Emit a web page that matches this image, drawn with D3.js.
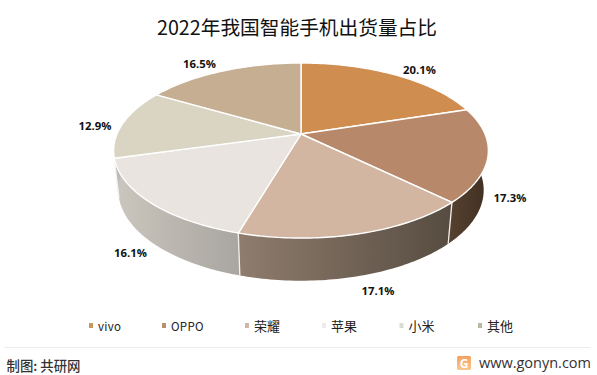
<!DOCTYPE html>
<html><head><meta charset="utf-8">
<script src="https://cdn.jsdelivr.net/npm/d3@7"></script>
<style>html,body{margin:0;padding:0;background:#fff}svg{display:block}</style>
</head><body><svg id="c" width="597" height="375"></svg>
<script>
const categories = ["vivo","OPPO","荣耀","苹果","小米","其他"];
const shares = [20.1,17.3,17.1,16.1,12.9,16.5];
const faceColors = ["#d08d50","#b8886b","#d2b6a2","#e9e4df","#d9d5c2","#c6ae92"];
const legendColors = ["#c8965f","#b88f70","#d2b6a6","#ececea","#dcdcd6","#b8b8a4"];
const sideStops = [["#4a3828","#4a3828"],["#54402e","#3f2f22"],["#8f7d6e","#574c41"],["#cbc7be","#a9a5a0"],["#bbb","#bbb"],["#aaa","#aaa"]];
const labelAnchors = [[419.5,69],[510,197],[378,290],[130.5,252],[95,125],[199.5,63]];
const legendMarkX = [89,162,245,322,399.5,478];

const svg = d3.select("#c");
const font = "'Noto Sans CJK SC','Noto Sans',sans-serif";
const cx = 301, cy = 134, a = 184, b = 84.4, k = 0.189, depth = 39, rimX = 0.975, rimY = 1.035;
function project(t, rim){
  const u = Math.sin(t), v = Math.cos(t), d = 1 + k*v;
  const x = a*u/d, y = -b*v/d;
  return rim ? [cx + x*rimX, cy + y*rimY + depth] : [cx + x, cy + y];
}
const arcs = d3.pie().sort(null).value(d=>d)(shares);
const line = d3.line();
function sample(a0,a1){ return d3.range(0,61).map(i=>a0+(a1-a0)*i/60); }

const defs = svg.append("defs");
const grad = defs.append("linearGradient").attr("id","logo").attr("x1",0).attr("y1",0).attr("x2",0).attr("y2",1);
grad.append("stop").attr("offset",0).attr("stop-color","#f6a05f");
grad.append("stop").attr("offset",1).attr("stop-color","#fac88f");

// side walls: only the front-facing part
const sides = svg.append("g");
arcs.forEach((s,i)=>{
  const start = i===1 ? Math.max(s.startAngle,1.2) : Math.max(s.startAngle,Math.PI/2);
  const end = i===3 ? Math.min(s.endAngle,4.7) : Math.min(s.endAngle,3*Math.PI/2);
  if(end<=start) return;
  const ts = sample(start,end);
  const top = ts.map(t=>project(t,false));
  const bot = ts.map(t=>project(t,true)).reverse();
  const id = "side"+i;
  const x0 = d3.min(top,p=>p[0]), x1 = d3.max(top,p=>p[0]);
  const g = defs.append("linearGradient").attr("id",id).attr("gradientUnits","userSpaceOnUse")
    .attr("x1",x0).attr("x2",x1).attr("y1",0).attr("y2",0);
  g.append("stop").attr("offset",0).attr("stop-color",sideStops[i][0]);
  g.append("stop").attr("offset",1).attr("stop-color",sideStops[i][1]);
  sides.append("path").attr("d",line(top.concat(bot))+"Z").attr("fill","url(#"+id+")");
});
// light seams between front-facing walls
arcs.filter(s=>s.endAngle>Math.PI/2 && s.endAngle<3*Math.PI/2).forEach(s=>{
  sides.append("path").attr("d",line([project(s.endAngle,false),project(s.endAngle,true)]))
    .attr("stroke","#f4efe9").attr("stroke-width",1.3).attr("fill","none");
});

// top faces
svg.append("g").selectAll("path").data(arcs).join("path")
  .attr("d",s=>line([[cx,cy]].concat(sample(s.startAngle,s.endAngle).map(t=>project(t,false))))+"Z")
  .attr("fill",(s,i)=>faceColors[i]).attr("stroke","#fff").attr("stroke-width",1.4).attr("stroke-linejoin","round");

// value labels
svg.append("g").selectAll("text").data(shares).join("text")
  .attr("x",(d,i)=>labelAnchors[i][0]).attr("y",(d,i)=>labelAnchors[i][1])
  .attr("text-anchor","middle").attr("dominant-baseline","central")
  .attr("font-family","'Open Sans','Noto Sans',sans-serif").attr("font-weight",700).attr("font-size",11.3).attr("fill","#111")
  .text(d=>d.toFixed(1)+"%");

// title
svg.append("text").attr("x",297).attr("y",26).attr("text-anchor","middle").attr("dominant-baseline","central")
  .attr("font-family",font).attr("font-size",19.7).attr("fill","#111").text("2022年我国智能手机出货量占比");

// legend
const leg = svg.append("g").selectAll("g").data(categories).join("g")
  .attr("transform",(d,i)=>`translate(${legendMarkX[i]},325.5)`);
leg.append("rect").attr("x",0).attr("y",-2.5).attr("width",4).attr("height",5).attr("fill",(d,i)=>legendColors[i]);
leg.append("text").attr("x",9).attr("y",0).attr("dominant-baseline","central")
  .attr("font-family",font).attr("font-size",(d,i)=>i<2?11.5:13).attr("fill","#222").attr("letter-spacing",(d,i)=>i<2?0.3:0).text(d=>d);

// footer
svg.append("line").attr("x1",4).attr("x2",590).attr("y1",347.5).attr("y2",347.5).attr("stroke","#ececec");
svg.append("text").attr("x",6.5).attr("y",365).attr("dominant-baseline","central").attr("font-family",font)
  .attr("font-size",13.4).attr("font-weight",500).attr("fill","#333").text("制图: 共研网");
svg.append("rect").attr("x",457).attr("y",356).attr("width",14).attr("height",14).attr("rx",1.5).attr("fill","url(#logo)");
svg.append("text").attr("x",464).attr("y",363).attr("text-anchor","middle").attr("dominant-baseline","central")
  .attr("font-family","'Open Sans',sans-serif").attr("font-weight",700).attr("font-size",12).attr("fill","#fff").text("G");
svg.append("text").attr("x",591).attr("y",362).attr("text-anchor","end").attr("dominant-baseline","central")
  .attr("font-family","'Open Sans',sans-serif").attr("font-size",14.5).attr("fill","#333").text("www.gonyn.com");
</script></body></html>
